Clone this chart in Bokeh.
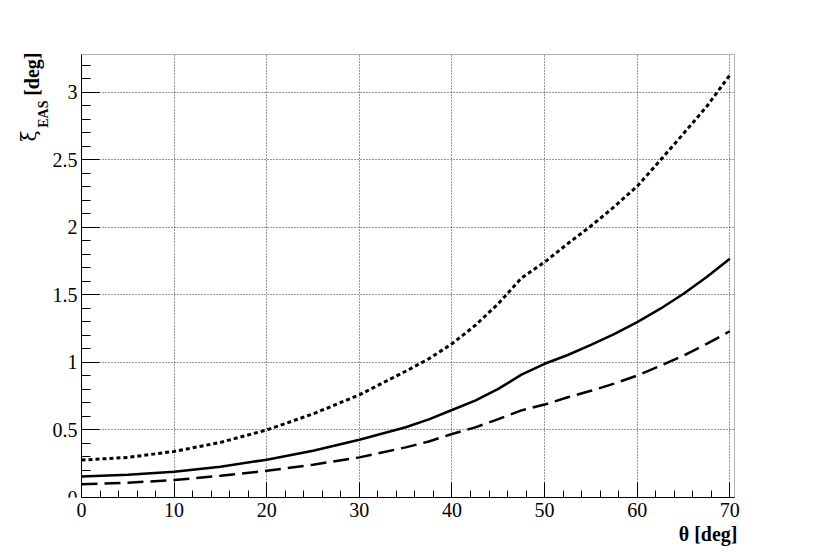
import math
from bokeh.plotting import figure
from bokeh.models import Range1d, FixedTicker, Title, Label, BoxAnnotation
from bokeh.embed import file_html
from bokeh.resources import INLINE

# data
theta = [0, 5, 10, 15, 20, 25, 30, 35, 37.5, 40, 42.5, 45, 47.5, 50, 52.5, 55, 57.5, 60, 62.5, 65, 67.5, 70]
xi_dotted = [0.277, 0.297, 0.341, 0.408, 0.500, 0.619, 0.760, 0.935, 1.027, 1.138, 1.274, 1.435, 1.625, 1.743,
             1.880, 2.010, 2.152, 2.305, 2.498, 2.695, 2.895, 3.128]
xi_solid = [0.156, 0.168, 0.190, 0.228, 0.280, 0.346, 0.428, 0.520, 0.578, 0.648, 0.717, 0.804, 0.910, 0.990,
            1.055, 1.130, 1.210, 1.298, 1.398, 1.509, 1.632, 1.768]
xi_dashed = [0.099, 0.109, 0.129, 0.161, 0.198, 0.243, 0.297, 0.371, 0.415, 0.470, 0.519, 0.580, 0.645, 0.688,
             0.742, 0.790, 0.843, 0.903, 0.975, 1.051, 1.138, 1.231]

x_major = [0, 10, 20, 30, 40, 50, 60, 70]
x_minor = [v * 2 for v in range(0, 36)]
y_major = [0, 0.5, 1, 1.5, 2, 2.5, 3]
y_minor = [round(v * 0.1, 1) for v in range(0, 33)]
y_labels = {0: "0", 0.5: "0.5", 1: "1", 1.5: "1.5", 2: "2", 2.5: "2.5", 3: "3"}

X_MIN, X_MAX = 0, 70.5
Y_MIN, Y_MAX = 0, 3.28

FONT = "Liberation Serif"

# geometry of the pad (pixels)
W, H = 816, 553
BOX_L, BOX_R, BOX_T, BOX_B = 81, 734, 54, 497
FRAME_L, FRAME_R, FRAME_T = 8, 737, 40
kx = (BOX_R - BOX_L) / (X_MAX - X_MIN)
ky = (BOX_B - BOX_T) / (Y_MAX - Y_MIN)
x_range = Range1d(X_MIN - (BOX_L - FRAME_L) / kx, X_MAX + (FRAME_R - BOX_R) / kx)
y_range = Range1d(Y_MIN, Y_MAX + (BOX_T - FRAME_T) / ky)

p = figure(width=W, height=H, output_backend="svg", toolbar_location=None,
           x_range=x_range, y_range=y_range,
           min_border_left=FRAME_L, min_border_top=FRAME_T,
           min_border_right=W - FRAME_R, min_border_bottom=H - BOX_B)
p.background_fill_color = "white"
p.border_fill_color = "white"
p.outline_line_color = None

for ax in (p.xaxis[0], p.yaxis[0]):
    ax.axis_line_color = "black"
    ax.major_tick_line_color = "black"
    ax.minor_tick_line_color = "black"
    ax.major_tick_out = 0
    ax.minor_tick_out = 0
    ax.major_label_text_font = FONT
    ax.major_label_text_font_size = "20px"
    ax.major_label_text_color = "black"

p.xaxis.ticker = FixedTicker(ticks=x_major, minor_ticks=x_minor)
p.yaxis.ticker = FixedTicker(ticks=y_major, minor_ticks=y_minor)
p.xaxis.bounds = (X_MIN, X_MAX)
p.yaxis.bounds = (Y_MIN, Y_MAX)
p.yaxis.fixed_location = X_MIN
p.xaxis.major_tick_in = 15
p.xaxis.minor_tick_in = 7
p.yaxis.major_tick_in = 18
p.yaxis.minor_tick_in = 9
p.xaxis.major_label_standoff = 5
p.yaxis.major_label_standoff = 4
p.yaxis.major_label_overrides = y_labels

for g in (p.xgrid[0], p.ygrid[0]):
    g.grid_line_color = "black"
    g.grid_line_dash = "1 2"
    g.grid_line_width = 1
    g.grid_line_alpha = 0.8
p.xgrid.ticker = FixedTicker(ticks=x_major)
p.ygrid.ticker = FixedTicker(ticks=y_major)
if "cross_bounds" in p.xgrid[0].properties():
    p.xgrid.cross_bounds = (Y_MIN, Y_MAX)
    p.ygrid.cross_bounds = (X_MIN, X_MAX)

# keep the grid inside the pad box (white masks reaching past the frame edges)
pad_x = 0.05 * (x_range.end - x_range.start)
pad_y = 0.05 * (y_range.end - y_range.start)
masks = [
    dict(left=x_range.start - pad_x, right=X_MIN, bottom=y_range.start - pad_y, top=y_range.end + pad_y),
    dict(left=X_MAX, right=x_range.end + pad_x, bottom=y_range.start - pad_y, top=y_range.end + pad_y),
    dict(left=x_range.start - pad_x, right=x_range.end + pad_x, bottom=Y_MAX, top=y_range.end + pad_y),
]
for kw in masks:
    p.add_layout(BoxAnnotation(fill_color="white", fill_alpha=1, line_color=None, level="underlay", **kw))

p.line(theta, xi_dotted, line_color="black", line_width=3, line_dash="4 3")
p.line(theta, xi_solid, line_color="black", line_width=2.5)
p.line(theta, xi_dashed, line_color="black", line_width=2.5, line_dash="16 7")

# pad frame
p.add_layout(BoxAnnotation(left=X_MIN, right=X_MAX, bottom=Y_MIN, top=Y_MAX, fill_alpha=0,
                           line_color="black", line_width=1))

# x-axis title, right aligned at the frame end
p.add_layout(Title(text="θ [deg]", align="right", text_font=FONT, text_font_style="bold",
                   text_font_size="20px", text_color="black", standoff=2, offset=0), "below")

# y-axis title (rotated, read upward): ξ, subscript EAS, [deg]
rot = math.pi / 2
common = dict(x=X_MIN, y=Y_MAX, angle=rot, text_align="right", text_baseline="alphabetic",
              text_color="black")
p.add_layout(Label(text="[deg]", x_offset=-50, y_offset=2, text_font=FONT, text_font_style="bold",
                   text_font_size="20px", **common))
p.add_layout(Label(text="EAS", x_offset=-38, y_offset=-46, text_font=FONT, text_font_style="bold",
                   text_font_size="14px", **common))
p.add_layout(Label(text="ξ", x_offset=-53, y_offset=-76, text_font="DejaVu Serif",
                   text_font_size="20px", **common))

open("out.html", "w").write(file_html(p, INLINE))
